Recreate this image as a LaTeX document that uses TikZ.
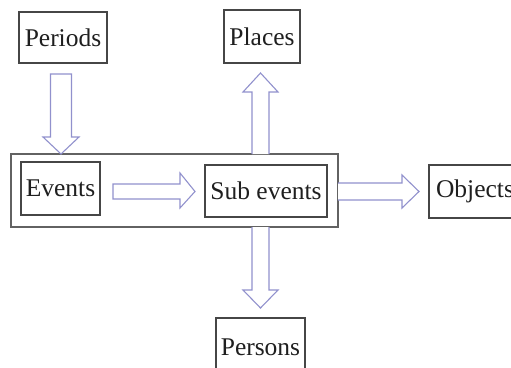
\documentclass[tikz,border=0pt]{standalone}
\usepackage{fontspec}
\setmainfont{Liberation Serif}
\begin{document}
\begin{tikzpicture}[x=1pt,y=-1pt,
  lbl/.style={draw=boxgray,line width=1.2pt,inner sep=0pt,text=black!88,
    font=\fontsize{25.5}{28}\selectfont},
  frame/.style={draw=boxgray!85,line width=1.2pt},
  fat/.style={draw=arrowlav,line width=1.1pt,fill=white,line join=miter}]
\definecolor{boxgray}{RGB}{70,70,70}
\definecolor{arrowlav}{RGB}{145,145,205}
\useasboundingbox (0,0) rectangle (511,367);
\clip (0,0) rectangle (511,367);
\fill[white] (0,0) rectangle (511,367);

% outer group frame
\draw[frame] (11,154) rectangle (338,227);
\coordinate (grouptop) at (61,154);

% labelled boxes
\node[lbl,minimum width=88pt,minimum height=51pt] (periods) at (63,37.5) {Periods};
\node[lbl,minimum width=76pt,minimum height=53pt] (places) at (262,36.5) {Places};
\node[lbl,minimum width=79pt,minimum height=53pt] (events) at (60.5,188.5) {Events};
\node[lbl,minimum width=122pt,minimum height=52pt] (subevents) at (266,191) {Sub events};
\node[lbl,minimum width=92pt,minimum height=53pt] (objects) at (475,191.5) {Objects};
\node[lbl,minimum width=89pt,minimum height=58pt] (persons) at (260.5,347) {Persons};

% block arrows
% Periods -> group
\draw[fat] (50.5,74) -- (71.5,74) -- (71.5,137) -- (79,137) -- (grouptop)
  -- (43,137) -- (50.5,137) -- cycle;
% Events -> Sub events
\draw[fat] (113,184) -- (180,184) -- (180,173) -- (195,191.5) -- (180,208)
  -- (180,199) -- (113,199) -- cycle;
% group -> Places
\draw[fat] (252,154) -- (252,92) -- (243,92) -- (260.5,73) -- (278,92)
  -- (269,92) -- (269,154);
% group -> Objects
\draw[fat] (338,183) -- (402,183) -- (402,175) -- (419,191.5) -- (402,208)
  -- (402,200) -- (338,200);
% group -> Persons
\draw[fat] (252,227) -- (252,290) -- (243,290) -- (260.5,308) -- (278,290)
  -- (269,290) -- (269,227);
\end{tikzpicture}
\end{document}
